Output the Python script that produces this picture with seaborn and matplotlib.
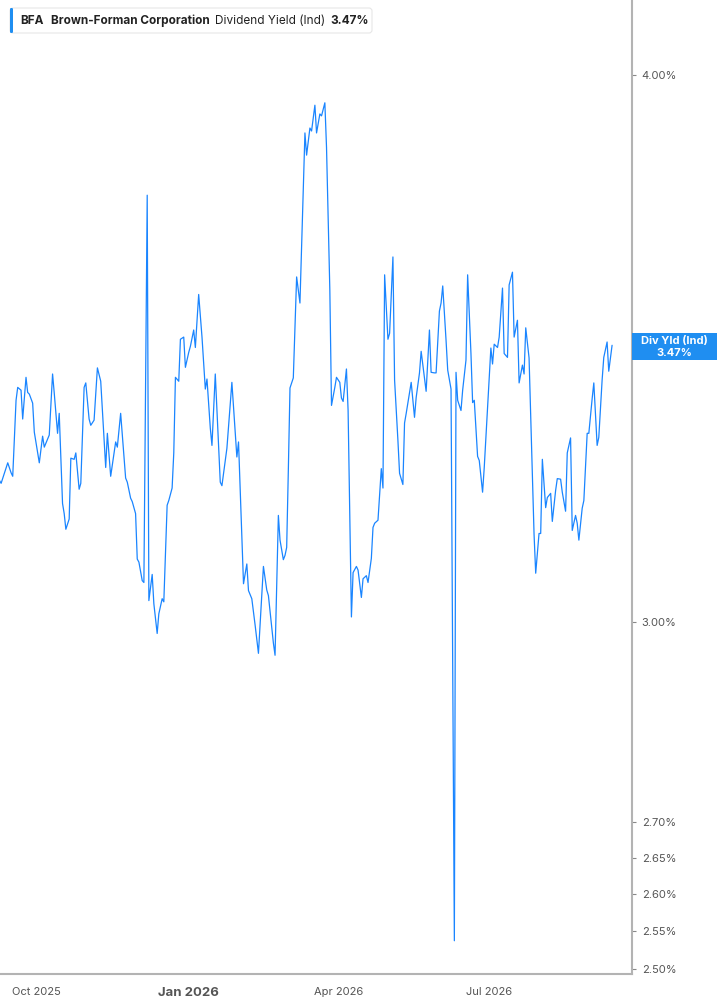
import pandas as pd
import matplotlib
matplotlib.use("Agg")
import matplotlib.pyplot as plt
from matplotlib.patches import FancyBboxPatch, Rectangle
from matplotlib.ticker import NullLocator
import seaborn as sns

# dividend yield (%)
dates = [
    "2025-09-09", "2025-09-10", "2025-09-14", "2025-09-16", "2025-09-17", "2025-09-19", "2025-09-20",
    "2025-09-22", "2025-09-23", "2025-09-25", "2025-09-26", "2025-09-27", "2025-09-29", "2025-09-30",
    "2025-10-03", "2025-10-05", "2025-10-06", "2025-10-09", "2025-10-11", "2025-10-12", "2025-10-14",
    "2025-10-15", "2025-10-17", "2025-10-18", "2025-10-19", "2025-10-21", "2025-10-22", "2025-10-24",
    "2025-10-25", "2025-10-27", "2025-10-28", "2025-10-30", "2025-10-31",
    "2025-11-02", "2025-11-03", "2025-11-05", "2025-11-07", "2025-11-09", "2025-11-12", "2025-11-13",
    "2025-11-15", "2025-11-18", "2025-11-19", "2025-11-21", "2025-11-24", "2025-11-25", "2025-11-27",
    "2025-11-28", "2025-11-30",
    "2025-12-01", "2025-12-02", "2025-12-04", "2025-12-05", "2025-12-07", "2025-12-08", "2025-12-10",
    "2025-12-11", "2025-12-13", "2025-12-14", "2025-12-16", "2025-12-17", "2025-12-19", "2025-12-20",
    "2025-12-22", "2025-12-23", "2025-12-24", "2025-12-26", "2025-12-27", "2025-12-29", "2025-12-30",
    "2026-01-01", "2026-01-02", "2026-01-04", "2026-01-05", "2026-01-07", "2026-01-09", "2026-01-11",
    "2026-01-12", "2026-01-14", "2026-01-15", "2026-01-17", "2026-01-20", "2026-01-21", "2026-01-23",
    "2026-01-24", "2026-01-27", "2026-01-30", "2026-01-31",
    "2026-02-03", "2026-02-05", "2026-02-06", "2026-02-08", "2026-02-10", "2026-02-12", "2026-02-15",
    "2026-02-17", "2026-02-18", "2026-02-21", "2026-02-22", "2026-02-24", "2026-02-25", "2026-02-27",
    "2026-02-28",
    "2026-03-01", "2026-03-02", "2026-03-03", "2026-03-05", "2026-03-07", "2026-03-09", "2026-03-12",
    "2026-03-13", "2026-03-15", "2026-03-16", "2026-03-18", "2026-03-19", "2026-03-21", "2026-03-22",
    "2026-03-24", "2026-03-25", "2026-03-27", "2026-03-28", "2026-03-30", "2026-03-31",
    "2026-04-02", "2026-04-03", "2026-04-04", "2026-04-06", "2026-04-07", "2026-04-09", "2026-04-10",
    "2026-04-12", "2026-04-13", "2026-04-15", "2026-04-16", "2026-04-18", "2026-04-19", "2026-04-21",
    "2026-04-22", "2026-04-23", "2026-04-25", "2026-04-27", "2026-04-28", "2026-04-29",
    "2026-05-01", "2026-05-02", "2026-05-04", "2026-05-05", "2026-05-07", "2026-05-08", "2026-05-10",
    "2026-05-11", "2026-05-12", "2026-05-14", "2026-05-15", "2026-05-17", "2026-05-18", "2026-05-20",
    "2026-05-21", "2026-05-23", "2026-05-24", "2026-05-26", "2026-05-27", "2026-05-29", "2026-05-30",
    "2026-06-01", "2026-06-02", "2026-06-03", "2026-06-05", "2026-06-06", "2026-06-08", "2026-06-10",
    "2026-06-11", "2026-06-12", "2026-06-14", "2026-06-15", "2026-06-17", "2026-06-18", "2026-06-20",
    "2026-06-21", "2026-06-22", "2026-06-24", "2026-06-25", "2026-06-27", "2026-06-28", "2026-06-30",
    "2026-07-02", "2026-07-03", "2026-07-04", "2026-07-06", "2026-07-07", "2026-07-09", "2026-07-10",
    "2026-07-12", "2026-07-13", "2026-07-15", "2026-07-16", "2026-07-18", "2026-07-19", "2026-07-21",
    "2026-07-22", "2026-07-23", "2026-07-25", "2026-07-28", "2026-07-29", "2026-07-31",
    "2026-08-01", "2026-08-02", "2026-08-04", "2026-08-05", "2026-08-07", "2026-08-08", "2026-08-10",
    "2026-08-11", "2026-08-13", "2026-08-14", "2026-08-16", "2026-08-17", "2026-08-19", "2026-08-20",
    "2026-08-22", "2026-08-23", "2026-08-24", "2026-08-26", "2026-08-27", "2026-08-29", "2026-08-30",
    "2026-09-01", "2026-09-02", "2026-09-04", "2026-09-05", "2026-09-07", "2026-09-08", "2026-09-10",
    "2026-09-11", "2026-09-13",
]
yields = [
    3.232, 3.227, 3.262, 3.245, 3.239, 3.371, 3.394, 3.389, 3.338, 3.412, 3.385, 3.382, 3.366, 3.315,
    3.262, 3.308, 3.289, 3.310, 3.418, 3.384, 3.313, 3.348, 3.193, 3.176, 3.150, 3.167, 3.270, 3.268,
    3.279, 3.217, 3.227, 3.394, 3.402,
    3.338, 3.327, 3.336, 3.429, 3.405, 3.254, 3.313, 3.239, 3.298, 3.289, 3.348, 3.236, 3.229, 3.202,
    3.196, 3.176,
    3.101, 3.096, 3.066, 3.063, 3.755, 3.034, 3.076, 3.029, 2.982, 3.013, 3.037, 3.032, 3.190, 3.198,
    3.219, 3.279, 3.412, 3.405, 3.481, 3.485, 3.430,
    3.457, 3.468, 3.498, 3.466, 3.564, 3.485, 3.391, 3.409, 3.322, 3.292, 3.418, 3.229, 3.223, 3.266,
    3.287, 3.403, 3.272, 3.298,
    3.061, 3.093, 3.050, 3.037, 2.995, 2.951, 3.089, 3.051, 3.042, 2.967, 2.948, 3.173, 3.132, 3.100,
    3.107,
    3.120, 3.249, 3.393, 3.411, 3.597, 3.548, 3.880, 3.835, 3.890, 3.884, 3.937, 3.880, 3.919, 3.915,
    3.942, 3.851, 3.572, 3.362, 3.394, 3.412,
    3.403, 3.375, 3.369, 3.427, 3.353, 3.008, 3.079, 3.089, 3.083, 3.039, 3.069, 3.074, 3.063, 3.102,
    3.153, 3.160, 3.165, 3.252, 3.219, 3.601,
    3.481, 3.492, 3.635, 3.407, 3.301, 3.244, 3.225, 3.331, 3.348, 3.384, 3.403, 3.341, 3.376, 3.420,
    3.459, 3.411, 3.387, 3.498, 3.421, 3.420, 3.420,
    3.533, 3.548, 3.580, 3.479, 3.425, 3.391, 2.537, 3.421, 3.371, 3.353, 3.389, 3.443, 3.601, 3.455,
    3.367, 3.371, 3.273, 3.266, 3.212, 3.254, 3.358,
    3.465, 3.436, 3.472, 3.466, 3.485, 3.576, 3.455, 3.448, 3.582, 3.606, 3.485, 3.516, 3.402, 3.434,
    3.418, 3.502, 3.447, 3.142, 3.078, 3.143,
    3.143, 3.268, 3.186, 3.203, 3.210, 3.163, 3.215, 3.235, 3.234, 3.212, 3.180, 3.279, 3.305, 3.148,
    3.173, 3.160, 3.132, 3.185, 3.198, 3.313, 3.313,
    3.374, 3.402, 3.292, 3.306, 3.407, 3.448, 3.476, 3.423, 3.470,
]

ytick_vals = [4.00, 3.00, 2.70, 2.65, 2.60, 2.55, 2.50]
xtick_dates = ["2025-10-01", "2026-01-01", "2026-04-01", "2026-07-01"]
xtick_labels = ["Oct 2025", "Jan 2026", "Apr 2026", "Jul 2026"]

ticker = "BFA"
company = "Brown-Forman Corporation"
metric = "Dividend Yield (Ind)"
last_label = "Div Yld (Ind)"

df = pd.DataFrame({"date": pd.to_datetime(dates), "yield": yields})
last_val = df["yield"].iloc[-1]

LINE = "#1a85ff"
BOX = "#1f8ef1"
AXIS = "#b3b3b3"
TXT = "#555555"

sns.set_style("white")
plt.rcParams["font.family"] = ["Inter", "DejaVu Sans"]

W, H = 717, 1005
fig = plt.figure(figsize=(W / 100, H / 100), dpi=100)
ax = fig.add_axes([0, 31 / H, 632 / W, 974 / H])

sns.lineplot(data=df, x="date", y="yield", ax=ax, color=LINE, linewidth=0.9)

ax.set_yscale("log")
ax.set_ylim(2.493, 4.161)
ax.set_xlim(pd.Timestamp("2025-09-09 08:00"), pd.Timestamp("2026-09-25"))

# axes look
for s in ["left", "top"]:
    ax.spines[s].set_visible(False)
for s in ["right", "bottom"]:
    ax.spines[s].set_color(AXIS)
    ax.spines[s].set_linewidth(1.5)

ax.yaxis.tick_right()
ax.set_yticks(ytick_vals)
ax.set_yticklabels([f"{v:.2f}%" for v in ytick_vals])
ax.yaxis.set_minor_locator(NullLocator())
ax.tick_params(axis="y", length=3, width=0.8, color="#888888", labelsize=8, labelcolor=TXT, pad=4)

ax.set_xticks(pd.to_datetime(xtick_dates))
ax.set_xticklabels(xtick_labels)
ax.tick_params(axis="x", length=4, width=0.8, color="#999999", labelsize=8, labelcolor=TXT, pad=5)
for lbl in ax.get_xticklabels():
    if lbl.get_text().startswith("Jan"):
        lbl.set_fontweight("bold")
        lbl.set_fontsize(9.5)
ax.set_xlabel("")
ax.set_ylabel("")

# header box (pixel coords, origin bottom-left)
hdr = FancyBboxPatch((10, H - 33), 362, 25, boxstyle="round,pad=0,rounding_size=3",
                     transform=None, facecolor="white", edgecolor="#e6e6e6", linewidth=0.8)
fig.patches.append(hdr)
fig.patches.append(FancyBboxPatch((10, H - 33), 3, 25, boxstyle="round,pad=0,rounding_size=1.2",
                                  transform=None, facecolor=BOX, edgecolor="none"))
ty = 1 - 20.5 / H
fig.text(20 / W, ty, ticker, fontsize=8.5, fontweight="bold", color="#222222", va="center")
fig.text(51 / W, ty, company, fontsize=8.5, fontweight="bold", color="#222222", va="center")
fig.text(215 / W, ty, metric, fontsize=8.5, color="#222222", va="center")
fig.text(330 / W, ty, f"{last_val:.2f}%", fontsize=8.5, fontweight="bold", color="#222222", va="center")

# last value tag on the right axis
fig.patches.append(Rectangle((632, H - 360), 85, 27, transform=None, facecolor=BOX, edgecolor="none"))
fig.text(674.5 / W, 1 - 341 / H, last_label, fontsize=8, fontweight="bold", color="white",
         ha="center", va="center")
fig.text(674.5 / W, 1 - 352.5 / H, f"{last_val:.2f}%", fontsize=8, fontweight="bold", color="white",
         ha="center", va="center")

assert len(dates) == len(yields)
fig.savefig("out.png", dpi=100)
